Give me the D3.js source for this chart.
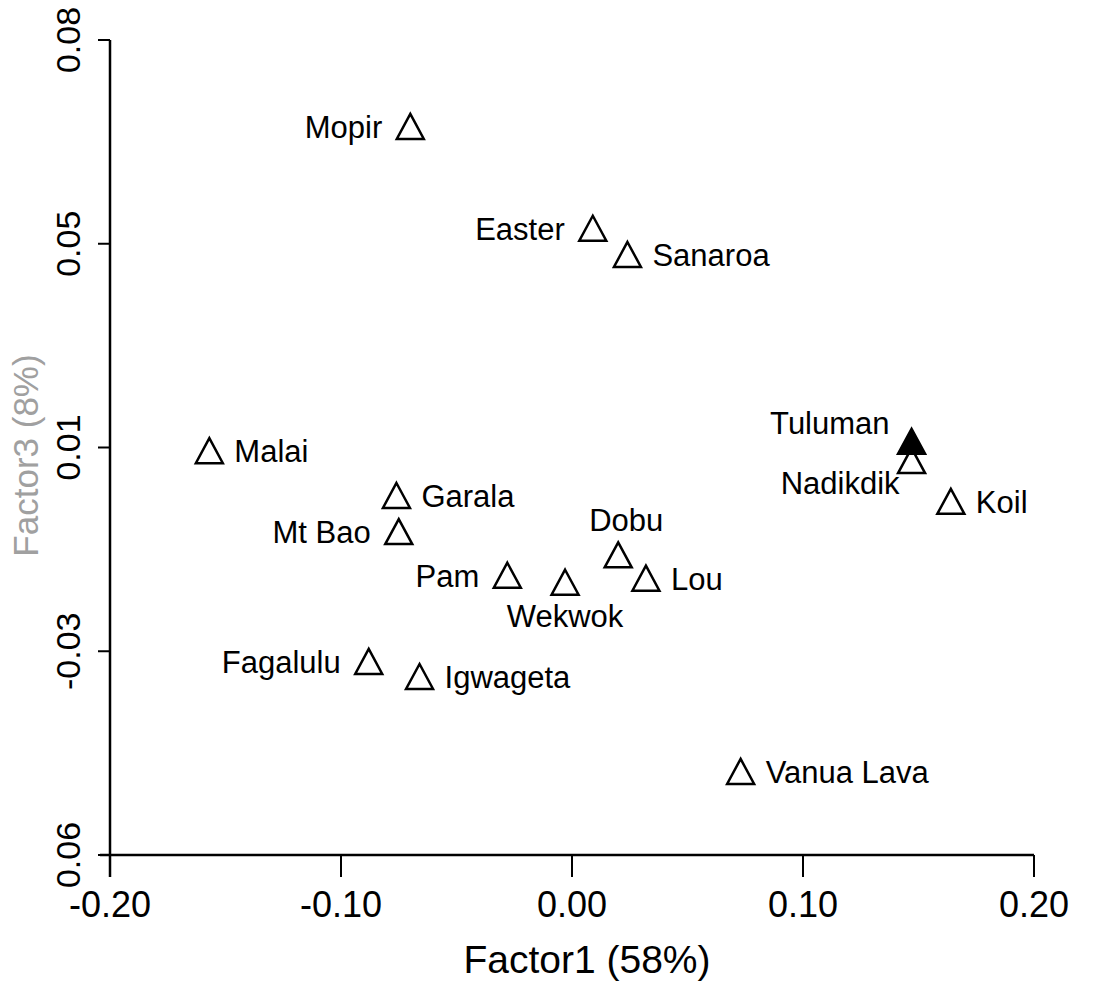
<!DOCTYPE html>
<html>
  <head>
    <script src="https://cdnjs.cloudflare.com/ajax/libs/d3/7.8.5/d3.min.js"></script>
    <style type="text/css">
      body {
        margin: 0;
        padding: 0;
        background: #fff;
      }
      text {
        font-family: "Liberation Sans", Arial, sans-serif;
        fill: #000;
      }
    </style>
  </head>
  <body>
    <div id="chart"></div>
    <script type="text/javascript">
    // sites, factor1 / factor3 scores
    const sites = ['Mopir', 'Easter', 'Sanaroa', 'Malai', 'Garala', 'Mt Bao', 'Pam', 'Wekwok',
      'Dobu', 'Lou', 'Fagalulu', 'Igwageta', 'Vanua Lava', 'Tuluman', 'Nadikdik', 'Koil'];
    const factor1 = [-0.070, 0.009, 0.024, -0.157, -0.076, -0.075, -0.028, -0.003,
      0.020, 0.032, -0.088, -0.066, 0.073, 0.147, 0.147, 0.164];
    const factor3 = [0.0649, 0.0474, 0.0429, 0.0092, 0.0015, -0.0047, -0.0122, -0.0134,
      -0.0087, -0.0127, -0.0270, -0.0296, -0.0459, 0.0108, 0.0075, 0.0005];
    const filled = [false, false, false, false, false, false, false, false,
      false, false, false, false, false, true, false, false];
    const labelSide = ['left', 'left', 'right', 'right', 'right', 'left', 'left', 'below',
      'above', 'right', 'left', 'right', 'right', 'upleft', 'downleft', 'right'];

    const xTicks = [-0.20, -0.10, 0.00, 0.10, 0.20];
    const xTickLabels = ['-0.20', '-0.10', '0.00', '0.10', '0.20'];
    const yTicks = [0.08, 0.045, 0.01, -0.025, -0.06];
    const yTickLabels = ['0.08', '0.05', '0.01', '-0.03', '0.06'];

    const W = 1107, H = 983;
    const svg = d3.select('#chart')
      .append('svg')
      .attr('width', W)
      .attr('height', H);

    const x = d3.scaleLinear().domain([-0.2, 0.2]).range([110, 1034]);
    const y = d3.scaleLinear().domain([-0.06, 0.08]).range([855, 40]);

    (/* y axis */() => {
      svg.append('line')
        .attr('x1', x(-0.2)).attr('x2', x(-0.2))
        .attr('y1', y(0.08)).attr('y2', y(-0.06) + 22)
        .attr('stroke', '#000').attr('stroke-width', 2.5);
      svg.selectAll('.y-tick')
        .data(yTicks)
        .enter()
        .append('line')
        .attr('class', 'y-tick')
        .attr('x1', x(-0.2) - 12).attr('x2', x(-0.2))
        .attr('y1', d => y(d)).attr('y2', d => y(d))
        .attr('stroke', '#000').attr('stroke-width', 2);
      svg.selectAll('.y-label')
        .data(yTicks)
        .enter()
        .append('text')
        .attr('class', 'y-label')
        .attr('transform', d => `translate(${x(-0.2) - 30},${y(d)}) rotate(-90)`)
        .attr('text-anchor', 'middle')
        .style('font-size', '34px')
        .text((d, i) => yTickLabels[i]);
      svg.append('text')
        .attr('transform', `translate(38,${y(0.01) + 8}) rotate(-90)`)
        .attr('text-anchor', 'middle')
        .style('font-size', '35px')
        .style('fill', '#a0a0a0')
        .text('Factor3 (8%)');
    })();

    (/* x axis */() => {
      svg.append('line')
        .attr('x1', x(-0.2) - 10).attr('x2', x(0.2))
        .attr('y1', y(-0.06)).attr('y2', y(-0.06))
        .attr('stroke', '#000').attr('stroke-width', 2.5);
      svg.selectAll('.x-tick')
        .data(xTicks)
        .enter()
        .append('line')
        .attr('class', 'x-tick')
        .attr('x1', d => x(d)).attr('x2', d => x(d))
        .attr('y1', y(-0.06)).attr('y2', y(-0.06) + 22)
        .attr('stroke', '#000').attr('stroke-width', 2);
      svg.selectAll('.x-label')
        .data(xTicks)
        .enter()
        .append('text')
        .attr('class', 'x-label')
        .attr('x', d => x(d))
        .attr('y', y(-0.06) + 62)
        .attr('text-anchor', 'middle')
        .style('font-size', '36px')
        .text((d, i) => xTickLabels[i]);
      svg.append('text')
        .attr('x', 587)
        .attr('y', 973)
        .attr('text-anchor', 'middle')
        .style('font-size', '39px')
        .text('Factor1 (58%)');
    })();

    const points = sites.map((s, i) => ({
      name: s, fx: factor1[i], fy: factor3[i], filled: filled[i], side: labelSide[i]
    }));
    // draw the open ones first so the filled one sits on top
    points.sort((a, b) => a.filled - b.filled);

    const tri = 'M0,-14L13.5,11L-13.5,11Z';
    svg.selectAll('.site')
      .data(points)
      .enter()
      .append('path')
      .attr('class', 'site')
      .attr('d', tri)
      .attr('transform', d => `translate(${x(d.fx)},${y(d.fy)})`)
      .attr('fill', d => d.filled ? '#000' : '#fff')
      .attr('stroke', '#000')
      .attr('stroke-width', 2.5)
      .attr('stroke-linejoin', 'miter');

    function labelPos(d) {
      const px = x(d.fx), py = y(d.fy);
      switch (d.side) {
        case 'left': return [px - 28, py + 10, 'end'];
        case 'right': return [px + 25, py + 10, 'start'];
        case 'above': return [px + 8, py - 25, 'middle'];
        case 'below': return [px, py + 43, 'middle'];
        case 'upleft': return [px - 22, py - 9, 'end'];
        case 'downleft': return [px - 12, py + 32, 'end'];
      }
    }

    svg.selectAll('.site-label')
      .data(points)
      .enter()
      .append('text')
      .attr('class', 'site-label')
      .attr('x', d => labelPos(d)[0])
      .attr('y', d => labelPos(d)[1])
      .attr('text-anchor', d => labelPos(d)[2])
      .style('font-size', '31px')
      .text(d => d.name);
    </script>
  </body>
</html>
